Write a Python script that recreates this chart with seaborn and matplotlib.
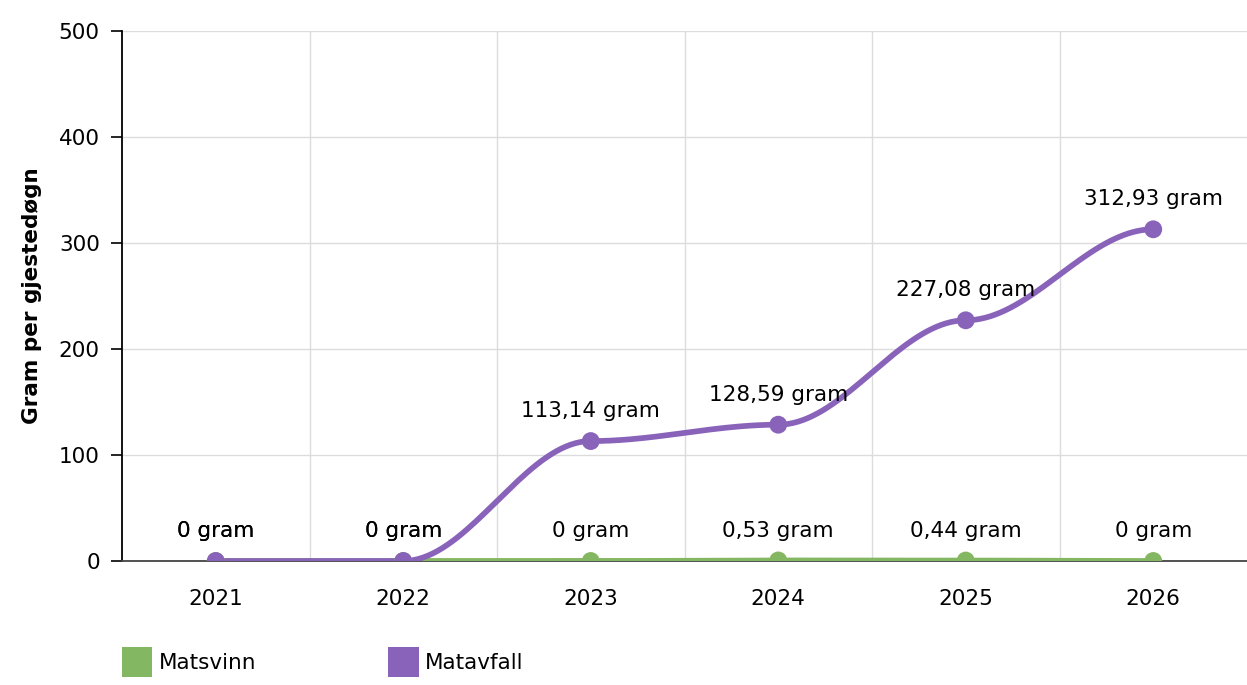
import numpy as np
import pandas as pd
import seaborn as sns
import matplotlib.pyplot as plt
from matplotlib.patches import Patch

# data
years = ["2021", "2022", "2023", "2024", "2025", "2026"]
matsvinn = [0, 0, 0, 0.53, 0.44, 0]
matavfall = [0, 0, 113.14, 128.59, 227.08, 312.93]
labels_matsvinn = ["0 gram", "0 gram", "0 gram", "0,53 gram", "0,44 gram", "0 gram"]
labels_matavfall = ["0 gram", "0 gram", "113,14 gram", "128,59 gram", "227,08 gram", "312,93 gram"]

green = "#84b761"
purple = "#8963b9"


def smooth_curve(x, y, a=0.35, n=40):
    # bezier per segment, control points held level with each end point
    x = np.asarray(x, float)
    y = np.asarray(y, float)
    u = np.linspace(0, 1, n)
    b = [(1 - u) ** 3, 3 * u * (1 - u) ** 2, 3 * u ** 2 * (1 - u), u ** 3]
    xs, ys = [], []
    for i in range(len(x) - 1):
        dx = (x[i + 1] - x[i]) * a
        px = [x[i], x[i] + dx, x[i + 1] - dx, x[i + 1]]
        py = [y[i], y[i], y[i + 1], y[i + 1]]
        xs.extend(sum(bk * pk for bk, pk in zip(b, px)))
        ys.extend(sum(bk * pk for bk, pk in zip(b, py)))
    return np.array(xs), np.array(ys)


sns.set_style("white")
plt.rcParams["font.family"] = ["DejaVu Sans"]
plt.rcParams["text.color"] = "black"
fs = 15.5

fig = plt.figure(figsize=(12.47, 6.85), dpi=100)
ax = fig.add_axes([122 / 1247, 1 - 561 / 685, 1 - 122 / 1247, (561 - 31) / 685])

xi = np.arange(len(years))
df = pd.DataFrame({"x": xi, "Matsvinn": matsvinn, "Matavfall": matavfall})

for col, c in [("Matsvinn", green), ("Matavfall", purple)]:
    cx, cy = smooth_curve(xi, df[col])
    sns.lineplot(x=cx, y=cy, color=c, linewidth=4.1, ax=ax, sort=False, zorder=3)
    sns.scatterplot(data=df, x="x", y=col, color=c, s=165, edgecolor="none", ax=ax, zorder=4)

for i in xi:
    ax.annotate(labels_matsvinn[i], (i, matsvinn[i]), xytext=(0, 21.5), textcoords="offset points",
                ha="center", va="center", fontsize=fs, color="black", zorder=5)
    ax.annotate(labels_matavfall[i], (i, matavfall[i]), xytext=(0, 21.5), textcoords="offset points",
                ha="center", va="center", fontsize=fs, color="black", zorder=5)

ax.set_xlim(-0.5, 5.5)
ax.set_ylim(0, 500)
ax.set_yticks(range(0, 501, 100))
ax.set_xticks(xi)
ax.set_xticklabels(years)
ax.tick_params(axis="x", length=0, pad=20, labelsize=fs, labelcolor="black")
ax.tick_params(axis="y", length=8, width=1.2, color="black", pad=8, labelsize=fs,
               labelcolor="black", left=True)

ax.set_xticks(xi[:-1] + 0.5, minor=True)
ax.tick_params(axis="x", which="minor", length=0)
ax.grid(which="minor", axis="x", color="#dcdcdc", linewidth=1)
ax.grid(which="major", axis="y", color="#dcdcdc", linewidth=1)
ax.grid(which="major", axis="x", visible=False)

for side in ["top", "right"]:
    ax.spines[side].set_visible(False)
ax.spines["left"].set_color("black")
ax.spines["left"].set_linewidth(1.3)
ax.spines["bottom"].set_color("#444444")
ax.spines["bottom"].set_linewidth(1.3)

ax.set_xlabel("")
ax.set_ylabel("Gram per gjestedøgn", fontsize=fs, fontweight="bold", color="black", labelpad=12)

handles = [Patch(facecolor=green, edgecolor="none"), Patch(facecolor=purple, edgecolor="none")]
fig.legend(handles, ["Matsvinn", "Matavfall"], loc="center left", bbox_to_anchor=(122 / 1247, 1 - 662 / 685),
           ncol=2, frameon=False, fontsize=fs, handlelength=1.4, handleheight=1.75,
           handletextpad=0.3, columnspacing=6.15, borderaxespad=0, borderpad=0)

fig.savefig("out.png", dpi=100)
